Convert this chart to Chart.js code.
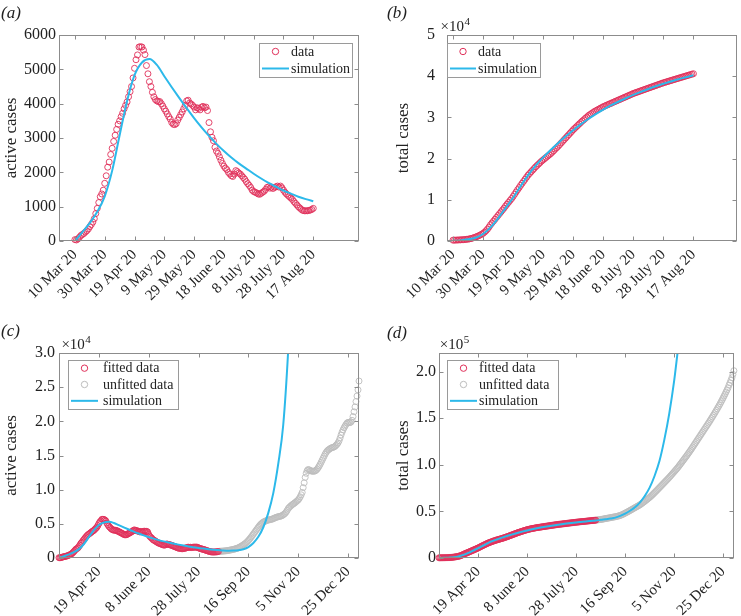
<!DOCTYPE html>
<html>
<head>
<meta charset="utf-8">
<script src="https://cdn.jsdelivr.net/npm/chart.js@4.4.0/dist/chart.umd.min.js"></script>
<style>
  body { margin: 0; background: #fff; }
  #wrap { position: relative; width: 741px; height: 616px; }
  #wrap canvas { position: absolute; }
</style>
</head>
<body>
<div id="wrap">
  <canvas id="chartA" width="370" height="308" style="left:0;top:0"></canvas>
  <canvas id="chartB" width="371" height="308" style="left:370px;top:0"></canvas>
  <canvas id="chartC" width="370" height="308" style="left:0;top:308px"></canvas>
  <canvas id="chartD" width="371" height="308" style="left:370px;top:308px"></canvas>
</div>
<script>
// daily counts, day 0 = 10 Mar 20
const activeCases = [
  40,30,60,110,160,190,220,260,300,350,
  420,480,550,650,800,950,1120,1290,1370,1480,
  1680,1900,2150,2300,2520,2700,2900,3080,3250,3400,
  3500,3620,3720,3850,3950,4050,4200,4350,4500,4750,
  5030,5280,5420,5650,5660,5650,5560,5430,5110,4870,
  4640,4500,4330,4200,4120,4080,4060,4060,4000,3930,
  3850,3780,3700,3620,3550,3450,3400,3390,3420,3520,
  3600,3680,3760,3850,3950,4080,4100,4020,3990,3950,
  3900,3820,3880,3860,3820,3900,3920,3880,3900,3800,
  3450,3180,3020,2920,2730,2620,2550,2450,2350,2260,
  2180,2120,2080,2000,1950,1900,1880,1950,2050,2020,
  1980,1950,1900,1850,1800,1730,1670,1620,1560,1480,
  1440,1420,1400,1370,1360,1390,1420,1450,1500,1560,
  1580,1540,1570,1530,1560,1580,1600,1570,1600,1550,
  1480,1420,1370,1330,1290,1250,1210,1150,1100,1050,
  1000,960,920,890,880,880,880,890,900,920,
  950,
  980,990,1000,1010,1020,1030,1050,1070,1090,1110,
  1140,1170,1200,1230,1260,1300,1340,1390,1440,1500,
  1570,1650,1740,1830,1930,2030,2140,2260,2400,2560,
  2730,2910,3100,3300,3500,3700,3900,4100,4300,4500,
  4700,4880,5000,5150,5250,5330,5400,5460,5520,5560,
  5590,5620,5650,5700,5760,5830,5890,5950,6000,6040,
  6080,6110,6150,6220,6320,6430,6560,6750,6980,7250,
  7400,7550,7680,7800,7900,8010,8120,8240,8370,8500,
  8700,8950,9250,9600,10300,11000,11800,12400,12800,12950,
  12900,12800,12750,12700,12700,12700,12750,12850,13000,13200,
  13450,13700,14000,14300,14600,14900,15200,15450,15650,15800,
  15900,16000,16100,16150,16200,16250,16350,16500,16650,16850,
  17150,17550,18000,18400,18750,19050,19300,19550,19750,19850,
  19850,19800,19900,20150,20700,21400,22100,22900,23700,24600,
  25900
];

const totalCases = [
  200,210,220,240,260,280,300,330,360,400,
  450,520,600,700,820,950,1100,1260,1440,1640,
  1850,2150,2500,2900,3400,3950,4400,4850,5300,5750,
  6200,6650,7100,7550,8000,8500,8950,9400,9850,10300,
  10800,11350,11900,12450,12950,13500,14000,14500,15000,15500,
  16000,16400,16800,17200,17600,18000,18350,18700,19050,19400,
  19700,20000,20300,20600,20900,21200,21550,21900,22300,22650,
  23000,23400,23800,24200,24600,25000,25400,25800,26200,26600,
  27000,27350,27700,28050,28400,28750,29100,29400,29750,30050,
  30400,30650,30900,31150,31400,31600,31800,32000,32200,32400,
  32600,32760,32920,33080,33240,33400,33560,33720,33880,34040,
  34200,34360,34520,34680,34840,35000,35160,35320,35480,35640,
  35800,35930,36060,36190,36320,36450,36580,36710,36840,36970,
  37100,37230,37360,37490,37620,37750,37880,38010,38140,38270,
  38400,38510,38620,38730,38840,38950,39060,39170,39280,39390,
  39500,39610,39720,39830,39940,40050,40160,40270,40380,40490,
  40600,
  40750,40900,41050,41200,41350,41500,41700,41900,42100,42300,
  42500,42700,42900,43100,43300,43500,43700,43900,44100,44300,
  44550,44800,45050,45350,45700,46100,46550,47050,47600,48150,
  48700,49250,49800,50400,51000,51600,52200,52800,53400,54000,
  54600,55200,55800,56400,57000,57750,58500,59300,60100,60900,
  61700,62550,63400,64250,65100,66000,67000,68000,69050,70100,
  71150,72200,73300,74400,75500,76600,77700,78800,79900,81000,
  82100,83200,84300,85400,86500,87700,88900,90100,91300,92500,
  93700,94900,96100,97400,98800,100200,101600,103000,104400,105800,
  107200,108600,110000,111500,113000,114500,116000,117500,119100,120700,
  122300,123900,125500,127100,128700,130300,131900,133500,135100,136700,
  138300,139900,141500,143100,144700,146300,148000,149700,151400,153100,
  154800,156600,158400,160200,162000,163800,165700,167700,169700,171800,
  173900,176000,178200,180400,182700,185500,188000,190700,193500,197000,
  201000
];

const lastFittedDay = 160;

// model output
const simActiveDays = [0,5,10,15,20,25,30,35,40,45,50,55,60,65,70,75,80,85,90,95,100,
  105,110,115,120,125,130,135,140,145,150,155,160,
  165,170,175,180,185,190,195,200,205,210,215,220,225,230,233];
const simActive = [0,260,530,850,1300,2050,3080,4080,4830,5200,5300,5130,4800,4480,4170,3870,3580,3310,3060,2830,2620,
  2430,2260,2110,1960,1820,1690,1580,1470,1380,1290,1220,1160,
  1100,1070,1080,1140,1290,1600,2200,3100,4500,6600,9500,13800,19500,30500,40000];

const simTotalDays = [0,5,10,15,20,25,30,35,40,45,50,55,60,65,70,75,80,85,90,95,100,
  105,110,115,120,125,130,135,140,145,150,155,160,
  165,170,175,180,185,190,195,200,205,210,215,220,225,230,235,240,245];
const simTotal = [0,150,400,800,1700,3300,5500,8000,10500,13300,16000,18300,20300,22100,23800,25400,26900,28300,29600,30800,31900,
  32900,33800,34650,35450,36200,36900,37550,38150,38700,39250,39750,40250,
  41000,41600,42300,43300,45200,47600,50700,54500,59500,66500,75500,88000,104000,127000,155000,190000,234000];

// axis ticks
const earlyTickDays = [0,20,40,60,80,100,120,140,160];
const earlyTickLabels = ['10 Mar 20','30 Mar 20','19 Apr 20','9 May 20','29 May 20','18 June 20','8 July 20','28 July 20','17 Aug 20'];
const lateTickDays = [40,90,140,190,240,290];
const lateTickLabels = ['19 Apr 20','8 June 20','28 July 20','16 Sep 20','5 Nov 20','25 Dec 20'];

const aTicks = [0,1000,2000,3000,4000,5000,6000];
const aTickLabels = ['0','1000','2000','3000','4000','5000','6000'];
const bTicks = [0,10000,20000,30000,40000,50000];
const bTickLabels = ['0','1','2','3','4','5'];
const cTicks = [0,5000,10000,15000,20000,25000,30000];
const cTickLabels = ['0','0.5','1.0','1.5','2.0','2.5','3.0'];
const dTicks = [0,50000,100000,150000,200000];
const dTickLabels = ['0','0.5','1.0','1.5','2.0'];

const RED = '#e0305a';
const GREY = '#bdbdbd';
const CYAN = '#2cb9ea';
const AXIS = '#8c8c8c';
const INK = '#222222';
const SERIF = "'Liberation Serif', 'Times New Roman', serif";

function dailyPoints(values, first, last) {
  const pts = [];
  for (let d = first; d <= last && d < values.length; d++) pts.push({x: d, y: values[d]});
  return pts;
}

function curvePoints(days, values, lastDay) {
  const pts = [];
  days.forEach((d, i) => { if (d <= lastDay) pts.push({x: d, y: values[i]}); });
  return pts;
}

function circles(label, pts, color, order) {
  return {
    label: label, data: pts, showLine: false,
    pointStyle: 'circle', pointRadius: 3, pointHoverRadius: 3, pointBorderWidth: 0.9,
    pointBorderColor: color, pointBackgroundColor: 'rgba(0,0,0,0)',
    borderColor: color, backgroundColor: 'rgba(0,0,0,0)',
    clip: 5, order: order
  };
}

function curve(label, pts) {
  return {
    label: label, data: pts, borderColor: CYAN, borderWidth: 2, pointRadius: 0,
    fill: false, cubicInterpolationMode: 'monotone', order: 0
  };
}

// box, inward ticks, legend, x10^n and panel tag
const panelPlugin = {
  id: 'panel',
  afterDatasetsDraw(chart, args, opts) {
    const ctx = chart.ctx;
    const a = chart.chartArea;
    const xs = chart.scales.x, ys = chart.scales.y;
    const L = Math.round(a.left) + 0.5, R = Math.round(a.right) - 0.5;
    const T = Math.round(a.top) + 0.5, B = Math.round(a.bottom) - 0.5;
    const tl = 4;
    ctx.save();
    ctx.strokeStyle = AXIS;
    ctx.lineWidth = 1;
    ctx.beginPath();
    xs.ticks.forEach(t => {
      const px = Math.round(xs.getPixelForValue(t.value)) + 0.5;
      ctx.moveTo(px, B); ctx.lineTo(px, B - tl);
      ctx.moveTo(px, T); ctx.lineTo(px, T + tl);
    });
    ys.ticks.forEach(t => {
      const py = Math.round(ys.getPixelForValue(t.value)) + 0.5;
      ctx.moveTo(L, py); ctx.lineTo(L + tl, py);
      ctx.moveTo(R, py); ctx.lineTo(R - tl, py);
    });
    ctx.stroke();
    ctx.strokeRect(L, T, R - L, B - T);

    // legend
    const lg = opts.legend;
    if (lg) {
      ctx.fillStyle = '#ffffff';
      ctx.fillRect(lg.left, lg.top, lg.width, lg.height);
      ctx.strokeStyle = '#9a9a9a';
      ctx.strokeRect(lg.left + 0.5, lg.top + 0.5, lg.width, lg.height);
      const sets = chart.data.datasets;
      ctx.font = '14px ' + SERIF;
      ctx.textBaseline = 'middle';
      ctx.textAlign = 'left';
      sets.forEach((ds, i) => {
        const cy = lg.top + lg.height * (i + 0.5) / sets.length;
        if (ds.showLine === false) {
          ctx.strokeStyle = ds.pointBorderColor;
          ctx.lineWidth = 1;
          ctx.beginPath();
          ctx.arc((lg.lineX0 + lg.lineX1) / 2, cy, 3.2, 0, Math.PI * 2);
          ctx.stroke();
        } else {
          ctx.strokeStyle = ds.borderColor;
          ctx.lineWidth = ds.borderWidth;
          ctx.beginPath();
          ctx.moveTo(lg.lineX0, cy); ctx.lineTo(lg.lineX1, cy);
          ctx.stroke();
        }
        ctx.fillStyle = INK;
        ctx.fillText(ds.label, lg.textX, cy + 0.5);
      });
    }

    // exponent above the y axis
    if (opts.exponent) {
      ctx.fillStyle = INK;
      ctx.textBaseline = 'alphabetic';
      ctx.textAlign = 'left';
      ctx.font = '15px ' + SERIF;
      const ex = a.left + opts.exponent.dx, ey = a.top - 4;
      ctx.fillText('\u00d710', ex, ey);
      const w = ctx.measureText('\u00d710').width;
      ctx.font = '11px ' + SERIF;
      ctx.fillText(opts.exponent.text, ex + w + 0.5, ey - 6);
    }

    // panel tag
    if (opts.tag) {
      ctx.fillStyle = INK;
      ctx.font = 'italic 17px ' + SERIF;
      ctx.textBaseline = 'alphabetic';
      ctx.textAlign = 'left';
      ctx.fillText(opts.tag.text, opts.tag.x, opts.tag.y);
    }
    ctx.restore();
  }
};

function makePanel(id, o) {
  const ctx = document.getElementById(id).getContext('2d');
  return new Chart(ctx, {
    type: 'line',
    data: { datasets: o.datasets },
    options: {
      responsive: false,
      animation: false,
      devicePixelRatio: 1,
      layout: { padding: { left: 0, top: o.padTop, right: o.padRight, bottom: 0 } },
      plugins: {
        legend: { display: false },
        tooltip: { enabled: false },
        panel: { legend: o.legend, exponent: o.exponent, tag: o.tag }
      },
      scales: {
        x: {
          type: 'linear', min: o.xMin, max: o.xMax,
          grid: { display: false, drawTicks: false },
          border: { display: false },
          afterBuildTicks: s => { s.ticks = o.xTicks.map(v => ({ value: v })); },
          afterFit: s => { s.height = o.xHeight; },
          ticks: {
            autoSkip: false, minRotation: 45, maxRotation: 45, padding: 5,
            color: INK, font: { family: SERIF, size: 15 },
            callback: v => o.xLabels[o.xTicks.indexOf(v)]
          }
        },
        y: {
          type: 'linear', min: 0, max: o.yMax,
          grid: { display: false, drawTicks: false },
          border: { display: false },
          afterBuildTicks: s => { s.ticks = o.yTicks.map(v => ({ value: v })); },
          afterFit: s => { s.width = o.yWidth; },
          ticks: {
            padding: o.yPad, color: INK, font: { family: SERIF, size: 16 },
            callback: v => o.yLabels[o.yTicks.indexOf(v)]
          },
          title: {
            display: true, text: o.yTitle, color: INK,
            font: { family: SERIF, size: 17 },
            padding: { top: o.titlePad, bottom: 0 }
          }
        }
      }
    },
    plugins: [panelPlugin]
  });
}

function loadCharts() {
  makePanel('chartA', {
    padTop: 35, padRight: 11, xMin: -10.7, xMax: 190.7, xHeight: 67,
    xTicks: earlyTickDays, xLabels: earlyTickLabels,
    yMax: 6000, yTicks: aTicks, yLabels: aTickLabels, yWidth: 59, yPad: 3,
    yTitle: 'active cases', titlePad: 1.5,
    datasets: [
      circles('data', dailyPoints(activeCases, 0, lastFittedDay), RED, 1),
      curve('simulation', curvePoints(simActiveDays, simActive, lastFittedDay))
    ],
    legend: { left: 259, top: 43, width: 93, height: 34, lineX0: 262, lineX1: 289, textX: 291 },
    tag: { text: '(a)', x: 1, y: 18 }
  });

  makePanel('chartB', {
    padTop: 35, padRight: 4, xMin: -4, xMax: 189, xHeight: 67,
    xTicks: earlyTickDays, xLabels: earlyTickLabels,
    yMax: 50000, yTicks: bTicks, yLabels: bTickLabels, yWidth: 77, yPad: 12,
    yTitle: 'total cases', titlePad: 23.4,
    datasets: [
      circles('data', dailyPoints(totalCases, 0, lastFittedDay), RED, 1),
      curve('simulation', curvePoints(simTotalDays, simTotal, lastFittedDay))
    ],
    legend: { left: 77, top: 43, width: 93, height: 34, lineX0: 80, lineX1: 106, textX: 108 },
    exponent: { text: '4', dx: -6.5 },
    tag: { text: '(b)', x: 17, y: 18 }
  });

  makePanel('chartC', {
    padTop: 45, padRight: 11, xMin: 0, xMax: 301, xHeight: 58,
    xTicks: lateTickDays, xLabels: lateTickLabels,
    yMax: 30000, yTicks: cTicks, yLabels: cTickLabels, yWidth: 59, yPad: 4,
    yTitle: 'active cases', titlePad: 1.5,
    datasets: [
      circles('fitted data', dailyPoints(activeCases, 0, lastFittedDay), RED, 1),
      circles('unfitted data', dailyPoints(activeCases, lastFittedDay + 1, 301), GREY, 2),
      curve('simulation', curvePoints(simActiveDays, simActive, 400))
    ],
    legend: { left: 68, top: 52, width: 110, height: 49, lineX0: 71, lineX1: 98, textX: 103 },
    exponent: { text: '4', dx: 2.4 },
    tag: { text: '(c)', x: 1, y: 28 }
  });

  makePanel('chartD', {
    padTop: 45, padRight: 3, xMin: 0, xMax: 301, xHeight: 58,
    xTicks: lateTickDays, xLabels: lateTickLabels,
    yMax: 220000, yTicks: dTicks, yLabels: dTickLabels, yWidth: 69, yPad: 3,
    yTitle: 'total cases', titlePad: 23.4,
    datasets: [
      circles('fitted data', dailyPoints(totalCases, 0, lastFittedDay), RED, 1),
      circles('unfitted data', dailyPoints(totalCases, lastFittedDay + 1, 301), GREY, 2),
      curve('simulation', curvePoints(simTotalDays, simTotal, 400))
    ],
    legend: { left: 77, top: 52, width: 111, height: 49, lineX0: 80, lineX1: 107, textX: 109 },
    exponent: { text: '5', dx: 0.7 },
    tag: { text: '(d)', x: 17, y: 30 }
  });
}

loadCharts();
</script>
</body>
</html>
